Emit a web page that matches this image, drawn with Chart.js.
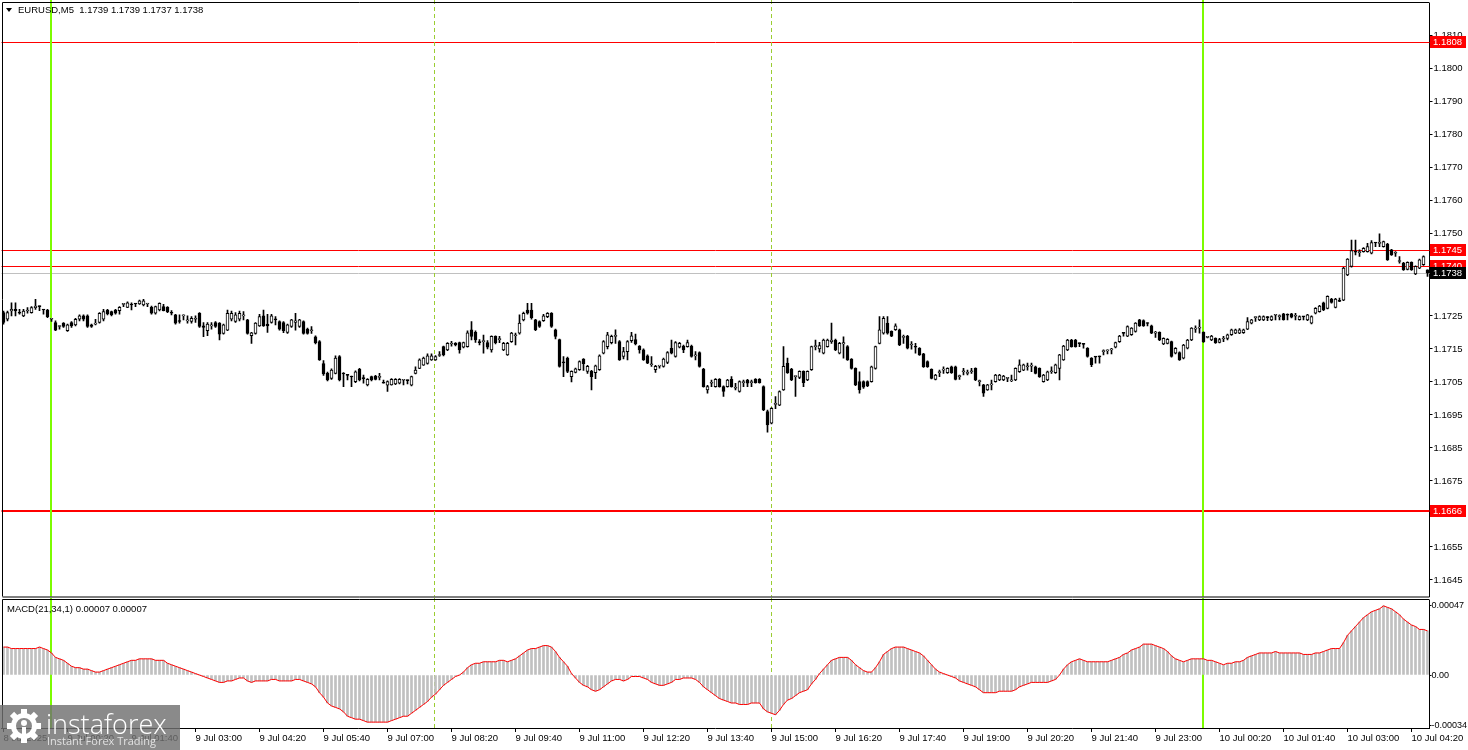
<!DOCTYPE html>
<html>
<head>
<meta charset="utf-8">
<title>EURUSD M5</title>
<script src="https://cdn.jsdelivr.net/npm/chart.js@4.4.1/dist/chart.umd.min.js"></script>
<style>
  html, body { margin: 0; padding: 0; background: #fff; }
  #wrap { position: relative; width: 1468px; height: 750px; overflow: hidden; background: #fff; }
  #price { position: absolute; left: 0; top: 0; }
  #macd { position: absolute; left: 0; top: 598px; }
</style>
</head>
<body>
<div id="wrap">
  <canvas id="price" width="1468" height="598"></canvas>
  <canvas id="macd" width="1468" height="152"></canvas>
</div>
<script>
// prices are written in pips above 1.1700 (25 -> 1.1725), one entry per M5 bar from 8 Jul 23:00
const opens = [
  26,24,26.5,27,26,25,26.5,26,27.5,28, 27,26.8,24,23,21.8,22.8,20.5,23,22.3,24,
  25,25,22.3,22.5,23,24,26.8,26.3,26.8,26.6, 28.5,27.6,28.5,28.8,28.6,28.3,28.6,27.6,25.8,26.8,
  27.8,27.6,26,25.3,23.5,25,23.5,23.3,24,25.8, 22,20.5,22,23,22.8,19.7,20.7,24,23.3,24,
  25,23.8,19,19.7,22,25,22.5,23,24,23.3, 23,20,21.8,23,21.8,23.3,21,20.5,18.7,17.2,
  10.6,7.6,6.1,7.6,12.7,7.6,7.1,6.6,5.1,8.8, 6.1,4.1,6.6,6.8,6.4,4.8,4,4.1,4.4,4.6,
  5.5,5.5,4,7.6,9.1,10.1,10.6,11.7,11.7,13, 15.7,14.7,16.5,16.7,16.9,15.5,15.7,20.8,20,17,
  17.2,16.9,14.7,18.8,17.8,14.7,13.2,17.2,19,19.8, 23.8,26.8,26.8,23.8,23.3,23.6,24.8,25.8,20.8,17.8,
  11,12.2,6.6,7.9,8.7,11.9,8.2,8.2,7.8,8.7, 13.7,15.7,16.9,18.8,17.2,12.7,14.2,17.5,17.8,15.9,
  14.7,12.9,10.2,8.7,9.8,9.7,10.9,15.2,12.7,15.5, 15.9,15.7,15.9,12.9,13.9,8.9,2.6,4.6,3.6,5.8,
  3.6,3.6,5.8,3.1,2.1,4.8,5.6,4.8,5.8,5.8, 3.6,-4,-7.5,-1.8,-2,2.6,10.7,8.9,6.6,6.4,
  8.2,5.6,8.7,15.7,15,13.7,15.7,17.2,17.7,13.7, 16.5,15.7,11.9,9.1,5.1,5.1,5.1,5.1,9.1,16.7,
  19.8,22.8,20.3,20.8,20.8,18.5,18.9,16.2,15.7,15.2, 13.5,11.2,8.8,5.8,7.8,8.6,7.8,9.6,9.6,6.6,
  8.1,7.6,8.1,9.1,5.1,4.1,2.6,4.1,5.1,5.6, 5.6,6.1,5.3,5.6,8.1,8.6,9.6,9.8,9.6,9.1,
  5.1,5.6,8.1,7.8,9.1,11.7,14.7,17.7,17.7,16.7, 16.5,15.2,12.2,12.6,12.7,14.2,14.4,14.7,15.5,17.2,
  19.8,18.9,19.3,20.3,23.8,23.6,22.8,22,19.8,20, 16.5,16.7,17.2,13.7,13.9,12.2,15.2,17.7,21,21.3,
  20,18.5,17.7,18.2,17,18,18.2,19.3,19.8,19.8, 19.9,21,22.8,24.5,23.8,23.8,24.6,23.8,25.2,24.8,
  25.6,25.3,25.6,24.9,23.9,24.8,23.8,22.8,25.8,26.3, 29,27.3,30.1,27.6,29.5,29.8,37.4,40,44.5,44.2,
  44.5,44.5,44,47.2,47,46,46.8,45,44,41.5, 41,39.1,41.2,37.7,39.5,40.5,39
];
const highs = [
  26.5,26.5,29,29,27,27,27.5,27.8,30,28, 27,27,24.2,23.5,22,23,22.5,23.3,24.3,25.3,
  25.3,25.3,22.5,24,26,27,27,26.5,27,27.8, 28.8,29.3,29,28.8,29.8,30,28.8,28,28,29,
  28.5,27.8,26.6,25.5,25.3,25.3,25,24.8,25,26, 23,23,23,23.3,23,22.5,26.8,26.5,26,26.5,
  26.3,24,20,23,25.5,26.8,25.5,25.5,24.8,23.5, 23.3,22.5,24,25.8,24,23.5,21.3,21.8,19,17.5,
  11.5,8,9,12.9,13,7.8,7.2,6.8,8.4,9.1, 7.1,6,6.8,7,7.6,5.6,5.3,6,6,6,
  5.6,5.6,6.8,9.6,12,12.5,13.5,13.5,13,14.2, 15.9,16.9,17.3,16.9,17.1,17.1,20.5,23.3,20.5,17.8,
  19.2,17.5,19,19,18.8,17,17,20,19.8,25.3, 26.2,28.8,28.8,24,23.5,25.5,26,26,21,18,
  12.7,12.5,8.4,9.2,11.4,12.1,10,8.5,10.1,13.2, 17.5,20,19.2,20.8,17.5,15.5,17.5,20,19.5,16,
  15,13.2,12.7,10,10,12.2,14.2,17.7,17.2,17, 16.2,17.7,16.2,14.2,14.1,9.1,4,5.6,6,6,
  3.8,5.8,6.6,4.6,5.3,5.6,5.8,5.6,6,6, 3.8,-3.5,-2.8,0.6,2.3,15.7,12.2,9.1,6.8,8.4,
  8.4,8.4,15.9,17.7,17,18,18,22.8,18,17, 18.7,16,12.1,9.3,8.1,5.3,5.3,9.8,15.9,24.8,
  24.8,24.8,20.5,22.6,21,19.2,19.1,17.2,16.7,15.4, 13.7,11.4,9,7.3,8.6,9.6,9.3,9.8,9.8,7.1,
  9.1,8.6,9.1,9.3,5.6,4.3,4.3,5.6,7.3,7.3, 7,6.3,7.1,9.3,11.7,10.4,10.7,10.7,9.8,9.3,
  7.3,8.3,9.6,10.4,13.4,16.1,17.9,17.9,17.9,16.8, 16.6,15.4,12.4,12.7,12.8,14.7,14.7,15.2,17.1,19.1,
  19.9,22,21.5,23,24,23.8,22.9,22.2,20.3,20.2, 18.4,18.1,17.4,15.4,14.1,16.4,17.9,21.5,22,23.8,
  20.2,18.7,19.1,18.4,18.2,18.8,19.5,21,21,21.2, 21,24.5,24,24.7,25,25,24.8,25,25.3,25.3,
  25.8,25.6,25.8,25.8,25,24.9,25.5,25,27.5,28.2, 29.2,31.1,30.3,30.3,30.4,39.7,42.4,48,48,45,
  45.7,47,47.8,47.3,49.9,47.7,47,45.2,44.5,43, 41.2,41.4,41.4,40.2,42.2,43.2,39
];
const lows = [
  22.5,23.5,25,25,25.5,24.8,25.8,25.8,27,26.6, 25.5,24.5,23.3,20.5,21,21.5,20.3,21.5,22,23.5,
  23.5,21.5,21.5,22.3,22.8,23.5,25.3,25,25.5,25.5, 27.8,27.5,26.8,27.8,28.5,28,27.8,25.5,25.5,26.5,
  26.5,26,25.3,22.5,22.8,23.8,22.8,22.8,23,21.5, 18.7,19,21,21.5,17.7,19.5,20.5,23.5,23,23.5,
  23.8,19.5,16.7,19.5,21.8,21.8,20,22.8,22.3,20.7, 19.9,19.7,21.5,20.7,21.5,19.5,19.5,19.7,16.5,11.5,
  7,5.3,5.8,7.4,5.3,3.6,5.6,3.6,4.8,5.3, 4.6,3.8,5.3,5.6,5.6,4.6,2.1,4,4.2,4.4,
  4.1,4.4,3.8,7.4,9,10,10.4,11.5,11.5,12.7, 12.9,14.5,15.8,15.9,13.7,15.3,15.5,17.7,17,16.2,
  13.7,15,14,16.5,16.9,14.5,13,17,16.2,19.5, 23.5,25.5,24,20.5,21.5,23.3,24.5,21.5,18,9.5,
  6.6,7.8,5,7.7,8.5,8.5,7.6,2.6,6,8.5, 13.5,15,16.5,16.7,11.5,12,11.7,17,16.2,13.7,
  11.5,10.5,9.7,7.9,9.2,9.5,10.5,13.5,12.5,15.3, 13.9,15.5,12.5,11.7,9.5,3.4,1.6,3.6,3.4,3.4,
  0.6,3.4,3.4,2.6,1.9,3.6,3.6,3.6,4.6,4.6, -3.7,-10.2,-7.7,-3.1,-2.2,2.4,7.6,5.4,0.6,6,
  3.6,5.4,8.5,14.7,14,13.5,15.5,16.7,14.5,13.5, 12.2,11.5,8.9,3.9,1.6,3,3.6,4.9,8.9,16.5,
  19.5,19.5,18.7,20.6,16,16.7,15,14.9,13.7,13, 9.4,9.4,5.9,5.6,6.6,7.6,7.6,7.6,5.6,5.8,
  7.1,7.1,7.6,5.4,3.8,0.6,2.4,2.6,4.9,5.4, 5.4,5.1,5.1,5.4,7.9,8.4,8.6,8.1,7.4,6.4,
  4.9,5.4,7.6,7.6,5.6,11.5,14.5,15.5,15.5,15.7, 15.2,12.5,9.6,10.7,10.7,13.2,13.5,13.5,15.3,17,
  18.9,18.7,19.1,20.1,21.8,21.8,22,19.6,18.5,17.5, 16.3,16.5,12.5,13.5,11.5,12,15,17.5,20,19.8,
  17,18.3,17.5,16.7,16.8,17.2,17.7,19.1,19.6,19.6, 19.7,20.8,22.6,23.3,23.6,23.6,23.6,23.6,23.8,23.8,
  23.7,23.8,24.4,23.8,23.7,23.8,23.6,22.6,25.6,26.1, 26.6,27.1,28.9,27.4,29.3,29.6,37.2,39.8,43.5,43,
  44.3,44.3,43.8,46,46,45.8,41.8,43.3,43,41, 38.8,38.9,38.8,37.5,39.3,40.3,37
];
const closes = [
  23,26,27,26.5,25.8,26.5,26.5,27.5,28,27.8, 26.8,24.8,24,20.7,21.8,21.8,22.3,22,24,25,
  24,21.8,21.8,22.8,25.8,26.3,25.6,25.3,25.8,27.6, 28.5,29,28.3,28.6,29.6,29.6,28.6,25.8,27.8,28.8,
  26.6,26.3,25.8,22.8,23.3,25,23.5,24.3,24,21.8, 21.5,22.5,22,21.8,19.5,22.3,25.8,25.8,25.3,25.8,
  25,19.7,19.9,22.8,24.8,22,22,25,23.8,21, 20.5,22.3,23.8,23.5,23.8,19.7,19.7,20.5,16.9,11.7,
  7.4,5.6,8.6,12.2,5.6,7.4,7,6.5,8.1,5.6, 6,5.8,5.6,5.8,6.4,4.6,5.1,5.8,5.8,5.8,
  5.5,5.4,6.6,8.6,11.7,12.2,12.9,12.9,12.7,13.2, 13.2,16.7,16.5,16.2,14.7,16.9,19.9,18.8,17.7,16.9,
  17.2,15.5,18.8,16.9,17.8,16.7,16.7,19.8,19,22.8, 25.8,25.8,24.5,20.8,21.8,25,25.8,21.8,18.8,9.7,
  10.8,8.2,8.2,9,11.2,10.5,9.7,6.6,9.9,12.9, 17.2,19.3,18.8,18.9,11.7,14.2,17.2,19,16.5,14.7,
  11.7,10.7,10.2,9.7,9.9,11.9,13.9,13.7,16.9,16.7, 14.7,16.9,12.7,12.9,9.7,3.6,3.6,4.6,5.8,3.6,
  2.1,5.6,3.6,3.1,5.1,4.8,4.6,4.8,4.8,4.8, -3.5,-8,-3,-1.6,2.1,9.7,7.8,5.6,6.6,8.2,
  4.8,8.2,15.7,15.7,16,17.7,17.7,17.7,14.7,16.7, 16.9,11.7,9.1,4.1,2.6,3.4,3.8,9.6,15.7,20.8,
  24.3,19.8,18.9,22,16.2,18.5,15.2,16.2,15.5,13.2, 9.6,9.6,6.1,7.1,7.8,8.6,9.1,7.8,5.8,6.6,
  8.1,7.6,8.1,5.6,5.1,1.6,4.1,4.1,7.1,7.1, 6.8,6.1,5.3,9.1,10.2,10.2,9.6,9.8,7.6,6.6,
  7.1,8.1,8.1,10.2,13.2,15.9,17.7,15.7,15.7,16.6, 16.4,12.7,10.2,12.5,12.6,14.2,14.5,14.7,16.9,18.9,
  19.7,21.8,21.3,22.8,22,22,22.7,19.8,19.8,17.7, 18.2,17.9,12.7,15.2,11.7,16.2,17.7,21.3,21,21.3,
  17.2,18.5,18.9,16.9,17.8,18,19.3,20.8,20.8,20.8, 20.8,23.3,23.8,24.6,24.8,24.8,24.5,24.8,25.2,24.8,
  23.9,25.2,24.6,24.9,24.8,24.7,25.3,24.8,27.3,28, 26.8,30.9,29.1,30.1,29.4,39.5,42.2,44.8,44.3,44.2,
  45.5,46,47.2,47.1,47,47.5,42,43.5,44,41.5, 39,41.2,39,40,42,43,38
];
// MACD(21,34,1) main line, in units of 0.00001
const macdLine = [
  19,19,18,18,18,18,18,18,18,19, 18,17,15,12,11,10,8,6,5,5,
  4,4,3,2,2,3,4,5,6,7, 8,9,10,10,11,11,11,11,10,10,
  10,8,7,6,5,4,3,2,1,0, -1,-2,-3,-4,-5,-5,-4,-4,-3,-2,
  -2,-4,-5,-4,-4,-4,-4,-3,-3,-4, -4,-4,-4,-3,-3,-4,-5,-6,-8,-12,
  -15,-19,-21,-22,-23,-25,-28,-29,-30,-30, -31,-32,-32,-32,-32,-32,-32,-31,-30,-29,
  -28,-28,-26,-24,-22,-20,-18,-15,-13,-10, -7,-5,-3,-1,0,2,5,7,8,8,
  9,9,9,9,10,10,9,10,11,13, 15,17,18,18,19,20,20,19,16,12,
  9,6,1,-2,-5,-7,-8,-10,-11,-10, -8,-6,-4,-3,-3,-4,-3,-1,-1,-1,
  -2,-3,-5,-6,-7,-7,-6,-5,-3,-3, -2,-2,-2,-3,-5,-8,-10,-12,-14,-16,
  -17,-18,-19,-19,-20,-20,-20,-19,-19,-19, -23,-25,-26,-27,-24,-20,-17,-16,-14,-12,
  -11,-10,-6,-3,1,4,7,10,11,12, 12,12,10,7,5,3,2,2,5,9,
  14,16,18,19,19,19,18,17,16,15, 13,10,7,4,2,1,0,-1,-2,-4,
  -5,-6,-7,-8,-10,-12,-12,-12,-12,-11, -11,-11,-11,-10,-8,-7,-6,-5,-5,-5,
  -5,-5,-4,-3,0,4,7,9,10,11, 10,9,9,9,9,9,9,10,11,12,
  14,15,17,18,19,21,21,21,20,19, 18,16,13,11,10,9,10,11,11,11,
  11,10,10,9,8,7,8,8,9,9, 10,12,13,14,15,15,15,15,16,15,
  15,15,15,15,15,14,14,14,15,15, 16,17,18,18,18,22,27,30,33,36,
  39,41,43,44,45,47,46,45,43,41, 38,36,34,33,31,31,30
];

const priceTicks = [1.1810, 1.1800, 1.1790, 1.1780, 1.1770, 1.1760, 1.1750,
  1.1725, 1.1715, 1.1705, 1.1695, 1.1685, 1.1675, 1.1665, 1.1655, 1.1645];
const redLevels = [1.1808, 1.1745, 1.1740, 1.1666];
const redLevelWidths = [1, 1, 1, 2];
const bidPrice = 1.1738;
const macdTicks = [47, 0, -34];
const macdTickLabels = ['0.00047', '0.00', '-0.00034'];
const timeTickLabels = ['8 Jul 2025', '9 Jul 00:20', '9 Jul 01:40', '9 Jul 03:00', '9 Jul 04:20',
  '9 Jul 05:40', '9 Jul 07:00', '9 Jul 08:20', '9 Jul 09:40', '9 Jul 11:00', '9 Jul 12:20',
  '9 Jul 13:40', '9 Jul 15:00', '9 Jul 16:20', '9 Jul 17:40', '9 Jul 19:00', '9 Jul 20:20',
  '9 Jul 21:40', '9 Jul 23:00', '10 Jul 00:20', '10 Jul 01:40', '10 Jul 03:00', '10 Jul 04:20'];
const TICK_STEP = 16; // one time label every 16 bars (80 minutes)
const greenBars = [12, 300];   // 9 Jul 00:00, 10 Jul 00:00
const dashedBars = [108, 192]; // 9 Jul 08:00, 9 Jul 15:00

const BASE = 1.17;
const px = p => +(BASE + p / 10000).toFixed(5);

// bar times
const categories = [];
const t0 = Date.UTC(2025, 6, 8, 23, 0);
for (let i = 0; i < closes.length; i++) {
  const d = new Date(t0 + i * 5 * 60000);
  const hh = String(d.getUTCHours()).padStart(2, '0');
  const mm = String(d.getUTCMinutes()).padStart(2, '0');
  categories.push(d.getUTCDate() + ' Jul ' + hh + ':' + mm);
}

const FONT = '"Liberation Sans", Arial, sans-serif';
const tickFont = { family: FONT, size: 9.5 };
Chart.defaults.font.family = FONT;

// keep the axes from adding their own label padding to the plot area
function fitRight(s) { s.width = 38.5; s.paddingTop = 0; s.paddingBottom = 0; }
function fitBottom(s) { s.height = 22; s.paddingLeft = 0; s.paddingRight = 0; }

function vLines(chart) {
  const { ctx, chartArea: a, scales: { x } } = chart;
  ctx.save();
  ctx.strokeStyle = '#9acd32';
  ctx.lineWidth = 1;
  ctx.setLineDash([4, 3]);
  dashedBars.forEach(i => {
    const xx = Math.round(x.getPixelForValue(i)) - 0.5;
    ctx.beginPath(); ctx.moveTo(xx, 0); ctx.lineTo(xx, a.bottom); ctx.stroke();
  });
  ctx.setLineDash([]);
  ctx.strokeStyle = '#7cfc00';
  ctx.lineWidth = 2;
  greenBars.forEach(i => {
    const xx = Math.round(x.getPixelForValue(i)) - 1;
    ctx.beginPath(); ctx.moveTo(xx, 0); ctx.lineTo(xx, a.bottom); ctx.stroke();
  });
  ctx.restore();
}

function axisTag(ctx, y, text, bg) {
  ctx.fillStyle = bg;
  ctx.fillRect(1430, Math.round(y) - 6, 36, 12);
  ctx.fillStyle = '#fff';
  ctx.font = '9.5px ' + FONT;
  ctx.textBaseline = 'middle';
  ctx.textAlign = 'left';
  ctx.fillText(text, 1433, Math.round(y) + 0.5);
}

const pricePlugin = {
  id: 'pricePlugin',
  beforeDatasetsDraw(chart) {
    const { ctx, chartArea: a, scales: { y } } = chart;
    ctx.save();
    ctx.strokeStyle = '#c0c0c0';
    ctx.lineWidth = 1;
    let yy = Math.round(y.getPixelForValue(bidPrice)) + 0.5;
    ctx.beginPath(); ctx.moveTo(a.left, yy); ctx.lineTo(a.right, yy); ctx.stroke();
    ctx.strokeStyle = '#ff0000';
    redLevels.forEach((v, k) => {
      ctx.lineWidth = redLevelWidths[k];
      const off = redLevelWidths[k] % 2 ? 0.5 : 0;
      const ly = Math.round(y.getPixelForValue(v)) + off;
      ctx.beginPath(); ctx.moveTo(a.left, ly); ctx.lineTo(a.right, ly); ctx.stroke();
    });
    ctx.restore();
    vLines(chart);
  },
  afterDraw(chart) {
    const { ctx, chartArea: a, scales: { y } } = chart;
    ctx.save();
    ctx.strokeStyle = '#000';
    ctx.lineWidth = 1;
    ctx.beginPath();
    ctx.moveTo(2.5, a.bottom); ctx.lineTo(2.5, 2.5); ctx.lineTo(a.right, 2.5);
    ctx.moveTo(2.5, a.bottom + 0.5); ctx.lineTo(a.right, a.bottom + 0.5);
    ctx.stroke();
    redLevels.forEach(v => axisTag(ctx, y.getPixelForValue(v), v.toFixed(4), '#ff0000'));
    axisTag(ctx, y.getPixelForValue(bidPrice), bidPrice.toFixed(4), '#000');
    // symbol header
    ctx.fillStyle = '#000';
    ctx.beginPath(); ctx.moveTo(6, 8); ctx.lineTo(12, 8); ctx.lineTo(9, 12); ctx.closePath(); ctx.fill();
    ctx.font = '9.5px ' + FONT;
    ctx.textBaseline = 'middle';
    ctx.textAlign = 'left';
    ctx.fillText('EURUSD,M5  1.1739 1.1739 1.1737 1.1738', 18, 10.5);
    ctx.restore();
  }
};

const macdPlugin = {
  id: 'macdPlugin',
  beforeDatasetsDraw(chart) { vLines(chart); },
  afterDraw(chart) {
    const { ctx, chartArea: a } = chart;
    ctx.save();
    ctx.strokeStyle = '#000';
    ctx.lineWidth = 1;
    ctx.beginPath();
    ctx.moveTo(2.5, a.bottom); ctx.lineTo(2.5, 1.5); ctx.lineTo(a.right, 1.5);
    ctx.stroke();
    ctx.fillStyle = '#000';
    ctx.font = '9.5px ' + FONT;
    ctx.textBaseline = 'middle';
    ctx.fillText('MACD(21,34,1) 0.00007 0.00007', 7, 11);
    // watermark
    const top = 107;
    ctx.fillStyle = 'rgba(112,112,112,0.82)';
    ctx.fillRect(0, top, 180, 152 - top);
    ctx.fillStyle = '#fff';
    ctx.strokeStyle = '#fff';
    const cx = 24, cy = top + 21;
    for (let k = 0; k < 8; k++) {
      ctx.save(); ctx.translate(cx, cy); ctx.rotate(k * Math.PI / 4);
      ctx.fillRect(-3, -17, 6, 6);
      ctx.restore();
    }
    ctx.lineWidth = 5;
    ctx.beginPath(); ctx.arc(cx, cy, 10.5, 0, Math.PI * 2); ctx.stroke();
    ctx.beginPath(); ctx.arc(cx, cy - 3, 3, 0, Math.PI * 2); ctx.fill();
    ctx.fillRect(cx - 2, cy + 1, 4, 10);
    ctx.font = '300 27px "Open Sans", sans-serif';
    ctx.textBaseline = 'alphabetic';
    ctx.fillText('instaforex', 46, top + 29);
    ctx.fillStyle = 'rgba(235,235,235,0.9)';
    ctx.font = '11px "Open Sans", sans-serif';
    ctx.fillText('Instant Forex Trading', 47, top + 40);
    ctx.restore();
  }
};

const bodyColors = closes.map((c, i) => (c >= opens[i] ? '#ffffff' : '#000000'));

new Chart(document.getElementById('price'), {
  type: 'bar',
  data: {
    labels: categories,
    datasets: [
      {
        label: 'wick',
        data: lows.map((l, i) => [px(l), px(highs[i])]),
        backgroundColor: '#000',
        barThickness: 1,
        grouped: false,
        order: 2
      },
      {
        label: 'body',
        data: opens.map((o, i) => [px(o), px(closes[i])]),
        backgroundColor: bodyColors,
        borderColor: '#000',
        borderWidth: 1,
        borderSkipped: false,
        barThickness: 3,
        minBarLength: 1,
        grouped: false,
        order: 1
      }
    ]
  },
  options: {
    responsive: false,
    animation: false,
    devicePixelRatio: 1,
    layout: { padding: { left: 1.5, top: 3, right: 0, bottom: 1.5 } },
    plugins: { legend: { display: false }, tooltip: { enabled: false } },
    scales: {
      x: { display: false, offset: true },
      y: {
        position: 'right',
        min: 1.16400,
        max: 1.18198,
        afterFit: fitRight,
        afterBuildTicks: s => { s.ticks = priceTicks.map(v => ({ value: v })); },
        ticks: { callback: v => Number(v).toFixed(4), color: '#000', font: tickFont, padding: 1 },
        grid: { drawOnChartArea: false, drawTicks: true, tickLength: 3, color: '#000' },
        border: { color: '#000' }
      }
    }
  },
  plugins: [pricePlugin]
});

new Chart(document.getElementById('macd'), {
  type: 'bar',
  data: {
    labels: categories,
    datasets: [
      {
        type: 'line',
        data: macdLine.map(v => v / 1e5),
        borderColor: '#ff0000',
        borderWidth: 1,
        pointRadius: 0,
        tension: 0,
        order: 1
      },
      {
        type: 'bar',
        data: macdLine.map(v => v / 1e5),
        backgroundColor: '#c0c0c0',
        barThickness: 2,
        order: 2
      }
    ]
  },
  options: {
    responsive: false,
    animation: false,
    devicePixelRatio: 1,
    layout: { padding: { left: 1.5, top: 2, right: 0, bottom: 0 } },
    plugins: { legend: { display: false }, tooltip: { enabled: false } },
    scales: {
      x: {
        offset: true,
        afterFit: fitBottom,
        afterBuildTicks: s => { s.ticks = timeTickLabels.map((_, k) => ({ value: k * TICK_STEP })); },
        ticks: {
          autoSkip: false, maxRotation: 0, minRotation: 0, align: 'start',
          callback: (v, k) => timeTickLabels[k],
          color: '#000', font: tickFont, padding: 1
        },
        grid: { drawOnChartArea: false, offset: false, tickLength: 4, color: '#000' },
        border: { color: '#000' }
      },
      y: {
        position: 'right',
        min: -36e-5,
        max: 51e-5,
        afterFit: fitRight,
        afterBuildTicks: s => { s.ticks = macdTicks.map(v => ({ value: v / 1e5 })); },
        ticks: { callback: (v, k) => macdTickLabels[k], color: '#000', font: { family: FONT, size: 9 }, padding: 0 },
        grid: { drawOnChartArea: false, drawTicks: true, tickLength: 2, color: '#000' },
        border: { color: '#000' }
      }
    }
  },
  plugins: [macdPlugin]
});
</script>
</body>
</html>
